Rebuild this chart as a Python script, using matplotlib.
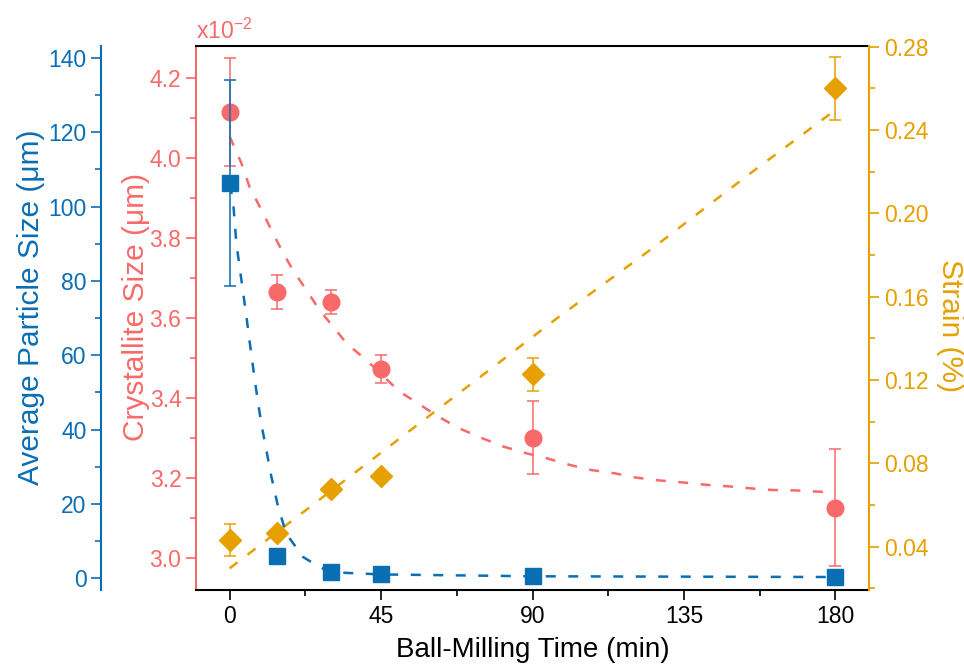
import numpy as np
import matplotlib
matplotlib.use('Agg')
import matplotlib.pyplot as plt
from matplotlib.ticker import MultipleLocator, FormatStrFormatter

plt.rcParams['font.family'] = ['Liberation Sans', 'DejaVu Sans']
plt.rcParams['mathtext.default'] = 'regular'

# measured points
time = [0, 14, 30, 45, 90, 180]

particle = [106.3, 5.9, 1.6, 1.1, 0.5, 0.3]
particle_err = [27.7, 1.0, 0.5, 0.4, 0.3, 0.2]

cryst = [4.114, 3.664, 3.639, 3.472, 3.300, 3.125]
cryst_err = [0.134, 0.042, 0.030, 0.035, 0.091, 0.146]

strain = [0.0432, 0.0466, 0.0677, 0.0740, 0.1228, 0.2600]
strain_err = [0.0075, 0.002, 0.002, 0.002, 0.008, 0.015]

# fitted curves
fit_p_x = [0, 1.0, 2.0, 3.5, 5.0, 6.4, 7.9, 9.4, 10.9, 12.4, 14.4, 16.8, 21.8, 26.7, 30, 45, 90, 180]
fit_p_y = [106, 101.7, 90.1, 80.2, 70.3, 60.5, 50.6, 41.6, 34.5, 27.3, 19.2, 12.0, 5.7, 3.0, 1.6, 1.0, 0.5, 0.3]

fit_c_x = [0, 3.5, 5.9, 8.9, 11.9, 15.4, 18.8, 22.8, 26.7, 30.7, 34.7, 40.6, 50.5, 55.9, 61.9,
           68.3, 75.2, 81.2, 88.1, 94.0, 101.0, 107.4, 114.3, 120.8, 127.7, 134.6, 141.6,
           148.5, 154.9, 161.4, 168.3, 174.8, 180]
fit_c_y = [4.053, 3.986, 3.927, 3.878, 3.828, 3.769, 3.719, 3.669, 3.619, 3.578, 3.536, 3.494,
           3.415, 3.386, 3.353, 3.323, 3.298, 3.278, 3.261, 3.249, 3.232, 3.219, 3.211, 3.200,
           3.193, 3.188, 3.182, 3.178, 3.173, 3.169, 3.168, 3.165, 3.163]

fit_s_x = [0, 97.9, 125.7, 153.4, 180]
fit_s_y = [0.0296, 0.1504, 0.1833, 0.2176, 0.2496]

blue = '#0A6EB4'
red = '#F86A6A'
orange = '#E6A000'
dash = (0, (4, 5))
tick_fs = 16.5
lab_fs = 21.5

fig = plt.figure(figsize=(9.64, 6.64), dpi=100)
ax = fig.add_axes([0.2033, 0.1114, 0.6982, 0.8193])
ax_s = ax.twinx()
ax_p = ax.twinx()

# crystallite size (main axes, red)
ax.plot(fit_c_x, fit_c_y, color=red, lw=1.8, ls=dash)
ax.errorbar(time, cryst, yerr=cryst_err, fmt='o', color=red, ms=12, capsize=4.5, elinewidth=1.1, capthick=1.1)
ax.set_xlim(-10, 190)
ax.set_ylim(2.919, 4.279)
ax.yaxis.set_major_locator(MultipleLocator(0.2))
ax.yaxis.set_minor_locator(MultipleLocator(0.1))
ax.yaxis.set_major_formatter(FormatStrFormatter('%.1f'))
ax.xaxis.set_major_locator(MultipleLocator(45))
ax.xaxis.set_minor_locator(MultipleLocator(22.5))
ax.set_xlabel('Ball-Milling Time (min)', fontsize=20, labelpad=7)
ax.set_ylabel('Crystallite Size (μm)', fontsize=lab_fs, color=red, labelpad=0)
ax.yaxis.label.set_y(0.52)
ax.tick_params(axis='y', which='both', colors=red, direction='out', labelsize=tick_fs)
ax.tick_params(axis='y', which='major', length=7, width=1.2)
ax.tick_params(axis='y', which='minor', length=4, width=1.2)
ax.tick_params(axis='x', which='major', direction='out', length=7, width=1.2, labelsize=tick_fs)
ax.tick_params(axis='x', which='minor', direction='out', length=4, width=1.2)
ax.spines['left'].set_color(red)
ax.spines['right'].set_visible(False)
for s in ['left', 'bottom', 'top']:
    ax.spines[s].set_linewidth(1.5)
ax.text(0.0, 1.003, 'x10$^{-2}$', transform=ax.transAxes, color=red, fontsize=16.5, ha='left', va='bottom')

# strain (right, orange)
ax_s.plot(fit_s_x, fit_s_y, color=orange, lw=1.8, ls=dash)
ax_s.errorbar(time, strain, yerr=strain_err, fmt='D', color=orange, ms=11, capsize=4.5, elinewidth=1.1, capthick=1.1)
ax_s.set_ylim(0.0192, 0.2803)
ax_s.yaxis.set_major_locator(MultipleLocator(0.04))
ax_s.yaxis.set_minor_locator(MultipleLocator(0.02))
ax_s.yaxis.set_major_formatter(FormatStrFormatter('%.2f'))
ax_s.set_ylabel('Strain (%)', fontsize=lab_fs, color=orange, rotation=270, labelpad=26)
ax_s.yaxis.label.set_y(0.487)
ax_s.tick_params(axis='y', which='both', colors=orange, direction='out', labelsize=tick_fs)
ax_s.tick_params(axis='y', which='major', length=7, width=1.2)
ax_s.tick_params(axis='y', which='minor', length=4, width=1.2)
for s in ['left', 'top', 'bottom']:
    ax_s.spines[s].set_visible(False)
ax_s.spines['right'].set_color(orange)
ax_s.spines['right'].set_linewidth(1.5)

# particle size (offset left, blue)
ax_p.plot(fit_p_x, fit_p_y, color=blue, lw=1.8, ls=dash)
ax_p.errorbar(time, particle, yerr=particle_err, fmt='s', color=blue, ms=11, capsize=4.5, elinewidth=1.1, capthick=1.1)
ax_p.set_ylim(-3.2, 143.2)
ax_p.yaxis.set_major_locator(MultipleLocator(20))
ax_p.yaxis.set_minor_locator(MultipleLocator(10))
ax_p.yaxis.set_label_position('left')
ax_p.yaxis.set_ticks_position('left')
ax_p.spines['left'].set_position(('axes', -0.141))
ax_p.spines['left'].set_visible(True)
ax_p.spines['left'].set_color(blue)
ax_p.spines['left'].set_linewidth(1.5)
for s in ['right', 'top', 'bottom']:
    ax_p.spines[s].set_visible(False)
ax_p.set_ylabel('Average Particle Size (μm)', fontsize=lab_fs, color=blue, labelpad=2)
ax_p.yaxis.label.set_y(0.52)
ax_p.tick_params(axis='y', which='both', colors=blue, direction='out', labelsize=tick_fs)
ax_p.tick_params(axis='y', which='major', length=7, width=1.2)
ax_p.tick_params(axis='y', which='minor', length=4, width=1.2)

fig.savefig('out.png', dpi=100)
